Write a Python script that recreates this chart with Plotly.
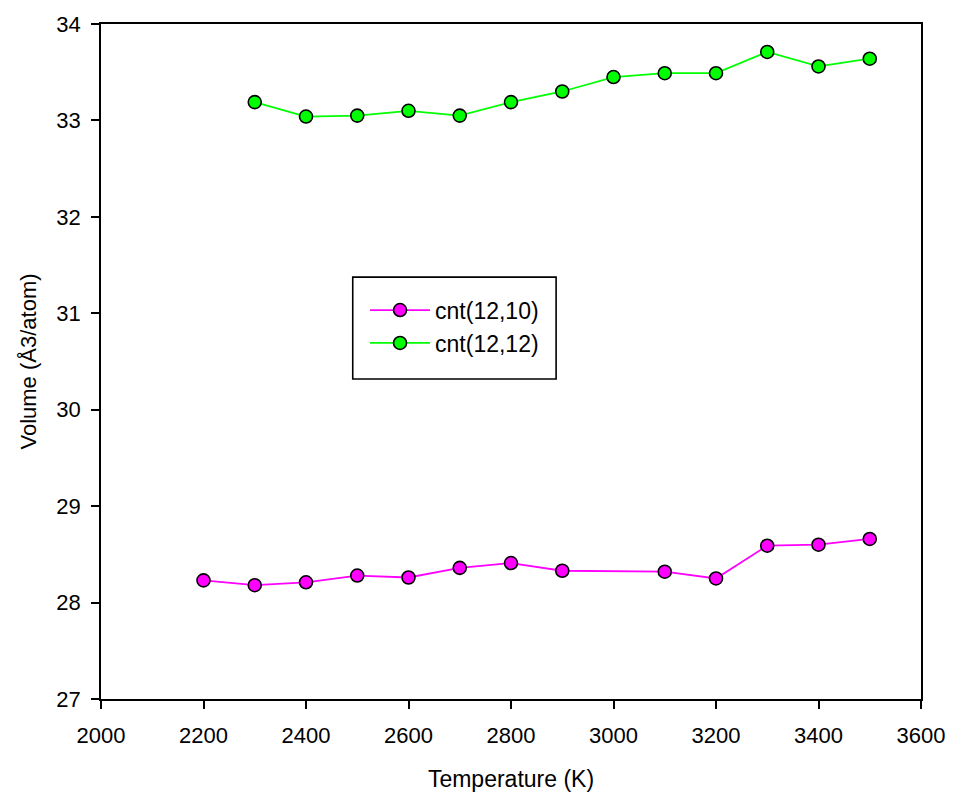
import plotly.graph_objects as go

# Temperature (K) and volume per atom for the two nanotubes
temp_12_10 = [2200, 2300, 2400, 2500, 2600, 2700, 2800, 2900, 3100, 3200, 3300, 3400, 3500]
vol_12_10 = [28.23, 28.18, 28.21, 28.28, 28.26, 28.36, 28.41, 28.33, 28.32, 28.25, 28.59, 28.60, 28.66]

temp_12_12 = [2300, 2400, 2500, 2600, 2700, 2800, 2900, 3000, 3100, 3200, 3300, 3400, 3500]
vol_12_12 = [33.19, 33.04, 33.05, 33.10, 33.05, 33.19, 33.30, 33.45, 33.49, 33.49, 33.71, 33.56, 33.64]

x_ticks = list(range(2000, 3601, 200))
y_ticks = list(range(27, 35))

FONT = "Arial, Liberation Sans, sans-serif"

fig = go.Figure()
fig.add_trace(go.Scatter(
    x=temp_12_10, y=vol_12_10, mode="lines+markers", name="cnt(12,10)",
    line=dict(color="#FF00FF", width=1.8),
    marker=dict(size=13, color="#FF00FF", line=dict(color="black", width=1.6)),
))
fig.add_trace(go.Scatter(
    x=temp_12_12, y=vol_12_12, mode="lines+markers", name="cnt(12,12)",
    line=dict(color="#00FF00", width=1.8),
    marker=dict(size=13, color="#00FF00", line=dict(color="black", width=1.6)),
))

axis_common = dict(
    showline=True, linecolor="black", linewidth=1.6, mirror=True,
    ticks="outside", ticklen=8, tickwidth=1.6, tickcolor="black",
    showgrid=False, zeroline=False,
    tickfont=dict(family=FONT, size=22, color="black"),
)

fig.update_layout(
    width=957, height=800,
    margin=dict(l=101, r=31, t=21, b=100),
    paper_bgcolor="white", plot_bgcolor="white",
    font=dict(family=FONT, color="black"),
    xaxis=dict(range=[2000, 3600], tickvals=x_ticks, ticklabelstandoff=8,
               title=dict(text="Temperature (K)", font=dict(family=FONT, size=23), standoff=24),
               **axis_common),
    yaxis=dict(range=[27, 34], tickvals=y_ticks, ticklabelstandoff=6,
               title=dict(text="Volume (Å3/atom)", font=dict(family=FONT, size=22), standoff=14),
               **axis_common),
    showlegend=True,
    legend=dict(
        x=0.322, y=0.608, xanchor="left", yanchor="top",
        bgcolor="rgba(0,0,0,0)", borderwidth=0,
        font=dict(family=FONT, size=23, color="black"),
        itemwidth=60, tracegroupgap=0,
    ),
)

# Frame around the legend
fig.add_shape(type="rect", xref="paper", yref="paper",
              x0=0.307, x1=0.555, y0=0.474, y1=0.625,
              line=dict(color="black", width=1.6), fillcolor="rgba(0,0,0,0)")

fig.write_html("out.html")
